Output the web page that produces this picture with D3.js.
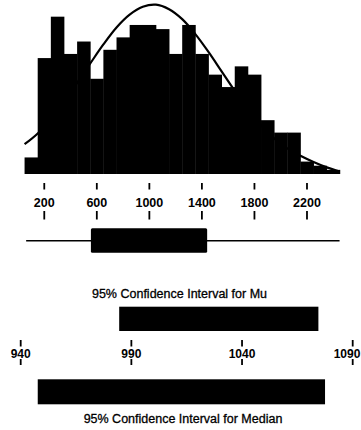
<!DOCTYPE html>
<html>
<head>
<meta charset="utf-8">
<script src="https://cdn.jsdelivr.net/npm/d3@7"></script>
<style>
  html, body { margin: 0; padding: 0; background: #fff; }
  svg { display: block; }
  text { font-family: "Liberation Sans", Arial, sans-serif; fill: #000; }
</style>
</head>
<body>
<script>
// ---- Data ----
const binCenters = [100, 200, 300, 400, 500, 600, 700, 800, 900, 1000, 1100, 1200,
                    1300, 1400, 1500, 1600, 1700, 1800, 1900, 2000, 2100, 2200, 2300, 2400];
const binCounts  = [4, 28, 38, 29, 32, 23, 30, 33, 36, 36, 35, 29,
                    36, 29, 24, 21, 26, 24, 13, 10, 10, 3, 2, 1];
const binWidth = 100;

// fitted normal curve
const curveX = [50, 150, 250, 350, 450, 550, 650, 750, 850, 950, 1050, 1150, 1250,
                1350, 1450, 1550, 1650, 1750, 1850, 1950, 2050, 2150, 2250, 2350, 2450];
const curveY = [7.2, 9.8, 13.3, 17.4, 22.0, 26.7, 31.3, 35.4, 38.5, 40.4, 40.9, 39.8, 37.4,
                33.8, 29.5, 24.8, 20.1, 15.7, 11.8, 8.6, 6.2, 4.4, 2.9, 1.6, 0.6];

const histTicks = [200, 600, 1000, 1400, 1800, 2200];

// boxplot summary
const boxWhiskerLow = 62;
const boxQ1 = 555;
const boxQ3 = 1440;
const boxWhiskerHigh = 2448;

// confidence intervals
const ciTicks = [940, 990, 1040, 1090];
const ciMu = [984.5, 1074.5];
const ciMedian = [947.7, 1077.5];
const ciMuLabel = "95% Confidence Interval for Mu";
const ciMedianLabel = "95% Confidence Interval for Median";

// ---- Layout ----
const W = 361, H = 430;
const svg = d3.select("body").append("svg").attr("width", W).attr("height", H);

const x = d3.scaleLinear().domain([0, 2500]).range([18.0, 346.4]);
const y = d3.scaleLinear().domain([0, 42]).range([174, 0.12]);

// histogram bars
svg.append("g").selectAll("rect")
  .data(binCenters.map((c, i) => ({ c, n: binCounts[i] })))
  .join("rect")
  .attr("x", d => x(d.c - binWidth / 2))
  .attr("width", d => x(d.c + binWidth / 2) - x(d.c - binWidth / 2) + 0.4)
  .attr("y", d => y(d.n))
  .attr("height", d => y(0) - y(d.n))
  .attr("fill", "#000");

// normal curve
const line = d3.line()
  .x(d => x(d[0]))
  .y(d => y(d[1]))
  .curve(d3.curveCatmullRom);
svg.append("path")
  .datum(curveX.map((v, i) => [v, curveY[i]]))
  .attr("d", line)
  .attr("fill", "none")
  .attr("stroke", "#000")
  .attr("stroke-width", 2.2);

// axis helpers: ticks above and below labels
function tickRow(scale, ticks, y1, y2) {
  svg.append("g").selectAll("line")
    .data(ticks).join("line")
    .attr("x1", d => scale(d)).attr("x2", d => scale(d))
    .attr("y1", y1).attr("y2", y2)
    .attr("stroke", "#000").attr("stroke-width", 1.8);
}
function labelRow(scale, ticks, baseline, size) {
  svg.append("g").selectAll("text")
    .data(ticks).join("text")
    .attr("x", d => {
      const px = scale(d);
      return Math.min(px, W - 1 - 13);   // keep right-most label inside the page
    })
    .attr("y", baseline)
    .attr("text-anchor", "middle")
    .attr("font-size", size)
    .attr("font-weight", "bold")
    .text(d => d);
}
tickRow(x, histTicks, 183, 189.5);
labelRow(x, histTicks, 207, "12.5px");
tickRow(x, histTicks, 211, 219.5);

// boxplot
svg.append("line")
  .attr("x1", x(boxWhiskerLow)).attr("x2", x(boxWhiskerHigh))
  .attr("y1", 240.7).attr("y2", 240.7)
  .attr("stroke", "#000").attr("stroke-width", 1.6);
svg.append("rect")
  .attr("x", x(boxQ1)).attr("width", x(boxQ3) - x(boxQ1))
  .attr("y", 228.3).attr("height", 24.4)
  .attr("rx", 1.5)
  .attr("fill", "#000");

// confidence intervals
const cx = d3.scaleLinear().domain([940, 1090]).range([20.7, 352.7]);

svg.append("text")
  .attr("x", 179.5).attr("y", 298)
  .attr("text-anchor", "middle")
  .attr("font-size", "12.5px")
  .attr("stroke", "#000").attr("stroke-width", 0.3)
  .text(ciMuLabel);

svg.append("rect")
  .attr("x", cx(ciMu[0])).attr("width", cx(ciMu[1]) - cx(ciMu[0]))
  .attr("y", 306.7).attr("height", 24.3)
  .attr("fill", "#000");

tickRow(cx, ciTicks, 340, 346.5);
labelRow(cx, ciTicks, 357.5, "12px");
tickRow(cx, ciTicks, 359, 365);

svg.append("rect")
  .attr("x", cx(ciMedian[0])).attr("width", cx(ciMedian[1]) - cx(ciMedian[0]))
  .attr("y", 379.3).attr("height", 25)
  .attr("fill", "#000");

svg.append("text")
  .attr("x", 183).attr("y", 423)
  .attr("text-anchor", "middle")
  .attr("font-size", "12.5px")
  .attr("stroke", "#000").attr("stroke-width", 0.3)
  .text(ciMedianLabel);
</script>
</body>
</html>
